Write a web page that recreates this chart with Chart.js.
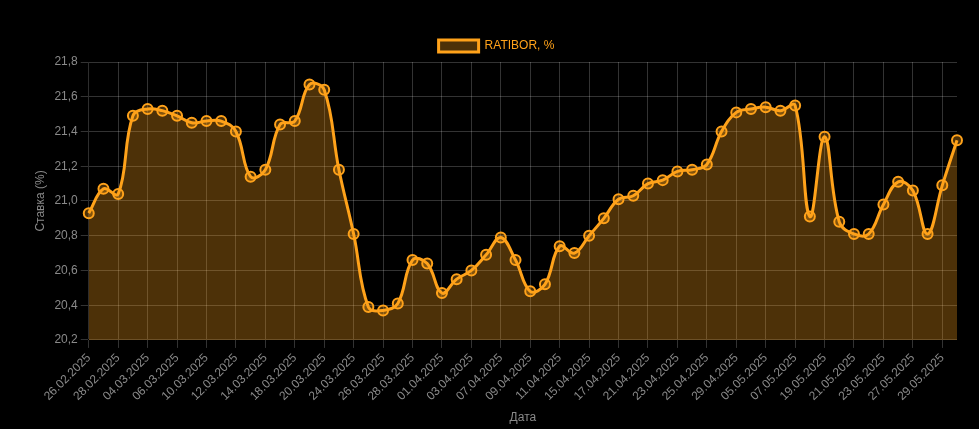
<!DOCTYPE html>
<html lang="ru">
<head>
<meta charset="utf-8">
<title>RATIBOR</title>
<script src="https://cdn.jsdelivr.net/npm/chart.js@4.4.1/dist/chart.umd.min.js"></script>
<style>
  html, body { margin: 0; padding: 0; background: #000; }
  .wrap { width: 979px; height: 429px; box-sizing: border-box; padding: 30px 15px 0 29px; }
</style>
</head>
<body>
<div class="wrap"><canvas id="rateChart"></canvas></div>
<script>
// даты торгов
const dates = [
  "26.02.2025", "27.02.2025", "28.02.2025", "03.03.2025", "04.03.2025",
  "05.03.2025", "06.03.2025", "07.03.2025", "10.03.2025", "11.03.2025",
  "12.03.2025", "13.03.2025", "14.03.2025", "17.03.2025", "18.03.2025",
  "19.03.2025", "20.03.2025", "21.03.2025", "24.03.2025", "25.03.2025",
  "26.03.2025", "27.03.2025", "28.03.2025", "31.03.2025", "01.04.2025",
  "02.04.2025", "03.04.2025", "04.04.2025", "07.04.2025", "08.04.2025",
  "09.04.2025", "10.04.2025", "11.04.2025", "14.04.2025", "15.04.2025",
  "16.04.2025", "17.04.2025", "18.04.2025", "21.04.2025", "22.04.2025",
  "23.04.2025", "24.04.2025", "25.04.2025", "28.04.2025", "29.04.2025",
  "30.04.2025", "05.05.2025", "06.05.2025", "07.05.2025", "16.05.2025",
  "19.05.2025", "20.05.2025", "21.05.2025", "22.05.2025", "23.05.2025",
  "26.05.2025", "27.05.2025", "28.05.2025", "29.05.2025", "30.05.2025"
];

// ставка RATIBOR, %
const ratibor = [
  20.93, 21.07, 21.04, 21.49, 21.53, 21.52, 21.49, 21.45, 21.46, 21.46,
  21.40, 21.14, 21.18, 21.44, 21.46, 21.67, 21.64, 21.18, 20.81, 20.39,
  20.37, 20.41, 20.66, 20.64, 20.47, 20.55, 20.60, 20.69, 20.79, 20.66,
  20.48, 20.52, 20.74, 20.70, 20.80, 20.90, 21.01, 21.03, 21.10, 21.12,
  21.17, 21.18, 21.21, 21.40, 21.51, 21.53, 21.54, 21.52, 21.55, 20.91,
  21.37, 20.88, 20.81, 20.81, 20.98, 21.11, 21.06, 20.81, 21.09, 21.35
];

const yMin = 20.2;
const yMax = 21.8;
const yStep = 0.2;

const orange = '#ffa21a';
const fill = 'rgba(255, 162, 26, 0.3)';
const textGray = '#8a8a8a';
const gridGray = 'rgba(255, 255, 255, 0.2)';

new Chart(document.getElementById('rateChart'), {
  type: 'line',
  data: {
    labels: dates,
    datasets: [{
      label: 'RATIBOR, %',
      data: ratibor,
      borderColor: orange,
      backgroundColor: fill,
      fill: true,
      tension: 0.4,
      borderWidth: 3,
      pointRadius: 5,
      pointBorderWidth: 2,
      pointBackgroundColor: fill,
      pointBorderColor: orange
    }]
  },
  options: {
    responsive: true,
    maintainAspectRatio: false,
    animation: false,
    plugins: {
      legend: {
        labels: { color: orange, font: { size: 12 } }
      },
      tooltip: { enabled: false }
    },
    scales: {
      x: {
        title: { display: true, text: 'Дата', color: textGray },
        ticks: { color: textGray, maxRotation: 45, minRotation: 45 },
        grid: { color: gridGray }
      },
      y: {
        min: yMin,
        max: yMax,
        title: { display: true, text: 'Ставка (%)', color: textGray },
        ticks: {
          color: textGray,
          stepSize: yStep,
          callback: v => v.toFixed(1).replace('.', ',')
        },
        grid: { color: gridGray }
      }
    }
  }
});
</script>
</body>
</html>
